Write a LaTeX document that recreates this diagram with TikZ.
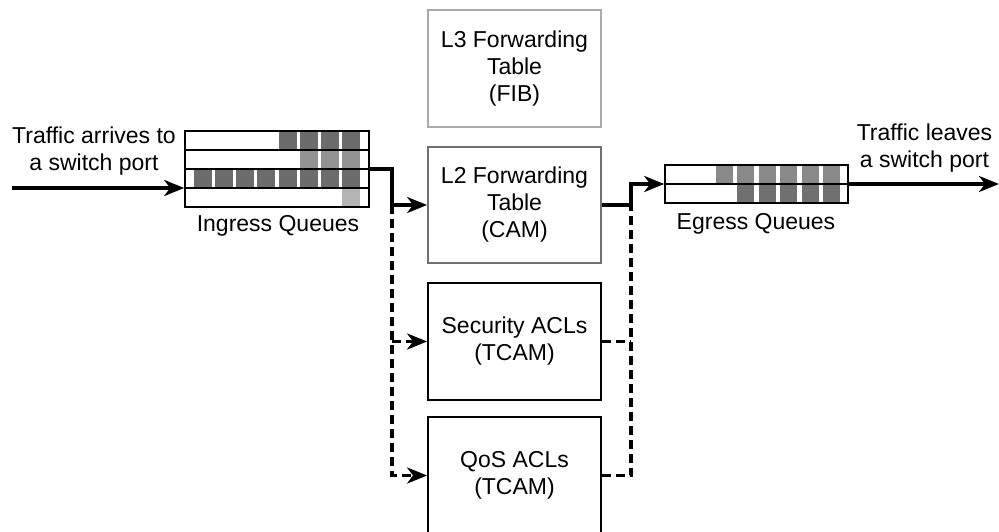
\documentclass[tikz,border=0pt]{standalone}
\usepackage{fontspec}
\setmainfont{Liberation Sans}
\usetikzlibrary{arrows.meta}
\definecolor{qdark}{HTML}{6C6C6C}
\definecolor{qmid}{HTML}{939393}
\definecolor{qlight}{HTML}{B4B4B4}
\definecolor{qegtop}{HTML}{898989}
\definecolor{qegbot}{HTML}{707070}
\definecolor{bL3}{HTML}{AAAAAA}
\definecolor{bL2}{HTML}{707070}
\begin{document}
\begin{tikzpicture}[x=1pt,y=-1pt,
  txt/.style={font=\fontsize{23}{27}\selectfont, align=center, inner sep=0pt},
  tbox/.style={draw, line width=1.8pt, minimum width=173pt, minimum height=117pt,
    inner sep=0pt, font=\fontsize{23}{27}\selectfont, align=center},
  qbox/.style={draw, line width=1.6pt, inner sep=0pt},
  conn/.style={line width=3.4pt, -{Stealth[length=20pt 0 0,width=16pt 0 0,inset=6pt 0]}},
  dconn/.style={conn, dash pattern=on 9pt off 5pt},
  dline/.style={line width=3.4pt, dash pattern=on 9pt off 5pt},
]
\clip (0,0) rectangle (999,532);

% ingress queue cells
\foreach \i in {4,...,7} \fill[qdark] (193.5+\i*21.25,132) rectangle ++(18,17.5);
\foreach \i in {5,...,7} \fill[qmid] (193.5+\i*21.25,151) rectangle ++(18,17.5);
\foreach \i in {0,...,7} \fill[qdark] (193.5+\i*21.25,170) rectangle ++(18,17.5);
\foreach \i in {7} \fill[qlight] (193.5+\i*21.25,189) rectangle ++(18,17.5);
\node[qbox, minimum width=184pt, minimum height=76pt] (ing) at (277,169) {};
\foreach \yy in {150,169,188} \draw[line width=1.6pt] (185,\yy) -- (369,\yy);

% egress queue cells
\foreach \i in {0,...,5} \fill[qegtop] (715.5+\i*21.5,166) rectangle ++(17,17.5);
\foreach \i in {1,...,5} \fill[qegbot] (715.5+\i*21.5,185) rectangle ++(17,17.5);
\node[qbox, minimum width=183pt, minimum height=38pt] (eg) at (756.5,184) {};
\draw[line width=1.6pt] (665,184) -- (848,184);

% labels
\node[txt, anchor=base] (inglbl) at (278,231) {Ingress Queues};
\node[txt, anchor=base] (eglbl) at (756,229) {Egress Queues};
\node[txt] (intxt) at (94,151) {Traffic arrives to\\a switch port};
\node[txt] (outtxt) at (924.5,148) {Traffic leaves\\a switch port};

% tables
\node[tbox, draw=bL3] (l3) at (514.5,68.5) {L3 Forwarding\\Table\\(FIB)};
\node[tbox, draw=bL2, minimum height=116pt] (l2) at (514.5,205) {L2 Forwarding\\Table\\(CAM)};
\node[tbox] (sec) at (514.5,341.5) {Security ACLs\\(TCAM)};
\node[tbox] (qos) at (514.5,475.5) {QoS ACLs\\(TCAM)};

% connectors
\coordinate (inL) at (12,188);
\coordinate (jL) at (392,205);
\coordinate (jR) at (631,205);
\coordinate (outR) at (999,184);

\draw[conn] (inL) -- (inL -| ing.west);
\draw[conn] (ing.east) -| (jL) -- (l2.west);
\draw[dconn] (jL) |- (qos.west);
\draw[dconn] (jL |- sec.west) -- (sec.west);
\draw[conn] (l2.east) -- (jR) |- (eg.west);
\draw[dline] (qos.east) -| (jR);
\draw[dline] (sec.east) -- (sec.east -| jR);
\draw[conn] (eg.east) -- (outR);
\end{tikzpicture}
\end{document}
